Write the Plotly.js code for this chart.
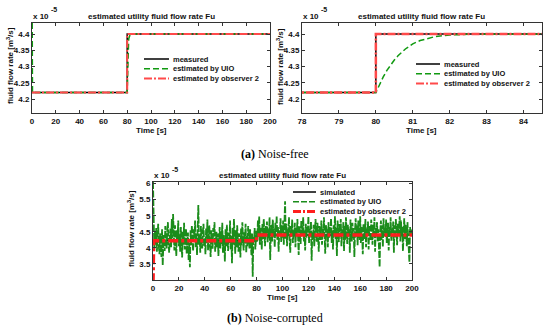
<!DOCTYPE html>
<html><head><meta charset="utf-8">
<script src="https://cdn.plot.ly/plotly-3.0.1.min.js"></script>
<style>html,body{margin:0;padding:0;background:#fff}#c{width:550px;height:333px}</style>
</head><body><div id="c"></div><script>
// ---------- data (flow rates in units of 1e-5 m^3/s) ----------
const stepTime = [0, 80, 80, 200];
const measuredFlow = [4.22, 4.22, 4.40, 4.40];
const uioTimeA = [0, 0.4, 80, 80.1, 80.2, 80.3, 80.4, 80.5, 80.6, 80.7, 80.8, 80.9, 81, 81.2, 81.4, 81.6, 81.8, 82, 82.5, 83, 200];
const uioFlowA = [4.60, 4.22, 4.22, 4.245, 4.268, 4.288, 4.305, 4.320, 4.333, 4.344, 4.354, 4.362, 4.370, 4.380, 4.387, 4.392, 4.395, 4.397, 4.399, 4.400, 4.400];
const obs2TimeA = [0, 80, 80, 200];
const obs2FlowA = [4.22, 4.22, 4.40, 4.40];
const simTimeB = [0, 80, 80, 200];
const simFlowB = [4.22, 4.22, 4.40, 4.40];
const obs2TimeB = [0, 0.5, 80, 80, 200];
const obs2FlowB = [2.90, 4.22, 4.22, 4.40, 4.40];
const noiseSamplePeriod = 0.5;
const uioFlowB = [
 6.05,4.35,3.95,4.50,4.10,4.62,3.88,4.30,4.75,4.05,3.80,4.45,4.20,3.72,4.58,3.45,4.15,4.40,3.90,4.68,
 4.25,3.98,4.52,4.80,4.12,3.85,4.38,4.60,4.02,4.90,4.30,5.05,4.48,3.92,4.70,4.18,3.75,4.55,4.28,4.85,
 4.05,4.42,3.88,4.65,4.22,3.70,4.50,4.10,4.78,3.95,4.35,4.60,3.82,4.25,4.48,3.62,4.15,3.40,4.55,4.08,
 4.70,4.20,3.90,4.58,4.32,4.85,4.02,4.45,3.78,4.62,5.33,4.10,4.40,3.85,4.68,4.22,3.98,4.52,4.75,4.05,
 4.30,3.80,4.60,4.15,4.88,3.92,4.42,4.70,4.08,3.72,4.55,4.25,3.95,4.62,4.35,4.80,3.88,4.18,4.50,4.02,
 4.45,3.75,4.28,4.65,3.98,4.52,4.12,4.78,3.85,4.40,4.20,3.58,4.58,4.05,4.72,4.32,3.90,4.48,4.15,4.85,
 3.95,4.38,3.52,4.62,4.10,4.90,4.25,3.82,4.55,4.02,4.70,4.18,3.88,4.45,4.30,3.70,4.60,4.08,4.80,4.22,
 3.92,4.50,4.15,4.75,3.85,4.40,4.05,4.68,4.28,3.98,4.58,4.12,3.78,4.45,3.10,4.35,4.20,4.62,3.95,4.30,
 4.55,4.20,4.85,4.35,4.98,4.10,4.62,4.42,3.95,4.75,4.28,4.90,4.50,4.05,4.68,4.38,4.82,4.15,4.58,4.30,
 4.95,3.62,4.45,4.72,4.20,4.88,4.35,4.60,4.02,4.78,4.48,5.00,4.25,4.65,3.88,4.55,4.40,4.92,4.18,4.70,
 4.32,4.85,4.10,4.62,5.45,4.28,4.75,4.05,4.58,4.40,4.95,4.22,3.85,4.68,4.45,4.88,4.15,4.55,4.35,4.78,
 4.02,4.62,4.42,4.90,4.25,3.78,4.70,4.50,4.12,4.85,4.38,4.60,4.95,4.20,4.55,3.92,4.75,4.32,4.65,4.48,
 4.98,4.15,4.58,4.40,4.82,3.60,4.50,4.28,4.72,4.05,4.62,4.90,4.35,4.18,4.78,4.45,3.88,4.68,4.52,4.25,
 4.85,4.10,4.60,4.38,4.95,4.22,3.82,4.72,4.48,4.58,4.02,4.80,4.32,4.65,4.45,4.92,4.15,4.55,3.95,4.70,
 4.40,4.98,4.28,4.62,3.75,4.85,4.50,4.18,4.75,4.35,4.90,4.05,4.58,4.42,4.80,3.90,4.68,4.25,4.95,4.52,
 4.12,4.72,4.38,4.60,3.85,4.88,4.45,4.20,4.78,4.30,4.62,3.72,4.55,4.92,4.35,4.70,4.08,4.85,4.48,4.25,
 4.98,4.15,4.65,4.42,3.80,4.75,4.52,4.28,4.90,4.02,4.60,4.38,4.82,3.95,4.68,4.45,4.22,4.88,4.55,4.10,
 4.72,4.35,4.95,3.88,4.62,4.40,4.80,4.18,4.58,3.68,3.40,4.50,4.85,4.25,4.70,4.02,4.92,4.45,4.62,4.32,
 4.88,4.15,4.55,4.78,3.92,4.65,4.38,4.95,4.22,4.60,4.45,4.82,3.85,4.70,4.30,4.90,4.52,4.08,4.75,4.40,
 4.62,4.98,4.20,4.85,4.35,4.68,3.90,4.55,4.92,4.28,4.72,4.45,4.05,4.80,4.50,4.18,3.55,4.65,4.38,4.58,4.42
];
const uioTimeB = uioFlowB.map((_, i) => i * noiseSamplePeriod);
const xTicksA = [0,20,40,60,80,100,120,140,160,180,200];
const xTicksZoom = [78,79,80,81,82,83,84];
const yTicksA = [4.2,4.25,4.3,4.35,4.4];
const yTicksB = [3.5,4,4.5,5,5.5,6];
const legendA = ['measured','estimated by UIO','estimated by observer 2'];
const legendB = ['simulated','estimated by UIO','estimated by observer 2'];
const plotTitle = 'estimated utility fluid flow rate Fu';
const yTitle = 'fluid flow rate [m<sup>3</sup>/s]';
const xTitle = 'Time [s]';
const captionA = '<b>(a)</b> Noise-free';
const captionB = '<b>(b)</b> Noise-corrupted';

// ---------- styling ----------
const W = 550, H = 333;
const px = x => x / W, py = y => 1 - y / H;
const SANS = 'Liberation Sans, Arial, sans-serif';
const SERIF = 'Liberation Serif, DejaVu Serif, serif';
const FS = 8;
const tf = {family: SANS, size: FS, color: '#111', weight: 'bold'};
const BLACK = '#000', GREEN = '#119a11', RED = '#ff4a4a', GREENB = '#1b8c1b', REDB = '#ff1e1e';

const boxA = {x0: 32, x1: 270, y0: 23, y1: 113};
const boxZ = {x0: 302, x1: 542, y0: 23, y1: 113};
const boxB = {x0: 153, x1: 412, y0: 182, y1: 280};

function axis(box, horiz, range, ticks, anchor) {
  const a = {
    range: range, tickvals: ticks, ticktext: ticks.map(String),
    showgrid: false, zeroline: false, showline: true, linecolor: '#333', linewidth: 1,
    mirror: 'ticks', ticks: 'inside', ticklen: 3, tickwidth: 1, tickcolor: '#333',
    tickfont: tf, anchor: anchor, fixedrange: true
  };
  a.domain = horiz ? [px(box.x0), px(box.x1)] : [py(box.y1), py(box.y0)];
  return a;
}

const traces = [
  {x: stepTime, y: measuredFlow, xaxis: 'x', yaxis: 'y', mode: 'lines', line: {color: BLACK, width: 1.5}},
  {x: uioTimeA, y: uioFlowA, xaxis: 'x', yaxis: 'y', mode: 'lines', line: {color: GREEN, width: 1.5, dash: '6px,3px'}},
  {x: obs2TimeA, y: obs2FlowA, xaxis: 'x', yaxis: 'y', mode: 'lines', line: {color: RED, width: 2, dash: '8px,2px,2px,2px'}},
  {x: stepTime, y: measuredFlow, xaxis: 'x2', yaxis: 'y2', mode: 'lines', line: {color: BLACK, width: 1.5}},
  {x: uioTimeA, y: uioFlowA, xaxis: 'x2', yaxis: 'y2', mode: 'lines', line: {color: GREEN, width: 1.5, dash: '6px,3px'}},
  {x: obs2TimeA, y: obs2FlowA, xaxis: 'x2', yaxis: 'y2', mode: 'lines', line: {color: RED, width: 2.5, dash: '8px,2px,2px,2px'}},
  {x: simTimeB, y: simFlowB, xaxis: 'x3', yaxis: 'y3', mode: 'lines', line: {color: BLACK, width: 1.5}},
  {x: uioTimeB, y: uioFlowB, xaxis: 'x3', yaxis: 'y3', mode: 'lines', line: {color: GREENB, width: 1.8, dash: '7px,1.5px'}},
  {x: obs2TimeB, y: obs2FlowB, xaxis: 'x3', yaxis: 'y3', mode: 'lines', line: {color: REDB, width: 3.5, dash: '10px,3px,3px,3px'}}
];

const ann = [];
const shapes = [];
function txt(text, x, y, opts) {
  ann.push(Object.assign({text: text, x: px(x), y: py(y), xref: 'paper', yref: 'paper', showarrow: false,
    xanchor: 'center', yanchor: 'middle', font: {family: SANS, size: FS, color: '#111', weight: 'bold'}}, opts || {}));
}
function decorate(box, legendNames, legX0, legX1, legY, legStyles, titleY) {
  const cx = (box.x0 + box.x1) / 2, cy = (box.y0 + box.y1) / 2;
  txt(plotTitle, cx, titleY);
  txt('x 10', box.x0 - 1, box.y0 - 7, {xanchor: 'left'});
  txt('-5', box.x0 + 17, box.y0 - 13, {xanchor: 'left', font: {family: SANS, size: 7, color: '#111', weight: 'bold'}});
  txt(xTitle, cx, box.y1 + 17);
  txt(yTitle, box.x0 - 22, cy - 2, {textangle: -90});
  legendNames.forEach((n, i) => {
    const y = legY + i * 9.7;
    shapes.push({type: 'line', xref: 'paper', yref: 'paper', x0: px(legX0), x1: px(legX1), y0: py(y), y1: py(y), line: legStyles[i]});
    txt(n, legX1 + 2, y, {xanchor: 'left', font: {family: SANS, size: 7.5, color: '#111', weight: 'bold'}});
  });
}
decorate(boxA, legendA, 144, 169, 59,
  [{color: BLACK, width: 1.5}, {color: GREEN, width: 1.5, dash: '6px,3px'}, {color: RED, width: 2, dash: '8px,2px,2px,2px'}], 16);
decorate(boxZ, legendA, 416, 440, 64,
  [{color: BLACK, width: 1.5}, {color: GREEN, width: 1.5, dash: '6px,3px'}, {color: RED, width: 2, dash: '8px,2px,2px,2px'}], 16);
decorate(boxB, legendB, 293, 316, 192,
  [{color: BLACK, width: 1.5}, {color: GREENB, width: 1.5, dash: '6px,2px'}, {color: REDB, width: 3, dash: '8px,2px,2px,2px'}], 175);
txt(captionA, 275, 154, {font: {family: SERIF, size: 12, color: '#000'}});
txt(captionB, 275, 318, {font: {family: SERIF, size: 12, color: '#000'}});

const layout = {
  width: W, height: H, margin: {l: 0, r: 0, t: 0, b: 0}, showlegend: false,
  paper_bgcolor: '#fff', plot_bgcolor: '#fff',
  xaxis: axis(boxA, true, [0, 200], xTicksA, 'y'),
  yaxis: axis(boxA, false, [4.157, 4.434], yTicksA, 'x'),
  xaxis2: axis(boxZ, true, [78, 84.5], xTicksZoom, 'y2'),
  yaxis2: axis(boxZ, false, [4.157, 4.434], yTicksA, 'x2'),
  xaxis3: axis(boxB, true, [0, 200], xTicksA, 'y3'),
  yaxis3: axis(boxB, false, [3, 6.05], yTicksB, 'x3'),
  annotations: ann, shapes: shapes
};
Plotly.newPlot('c', traces, layout, {displayModeBar: false, staticPlot: true});
</script></body></html>
